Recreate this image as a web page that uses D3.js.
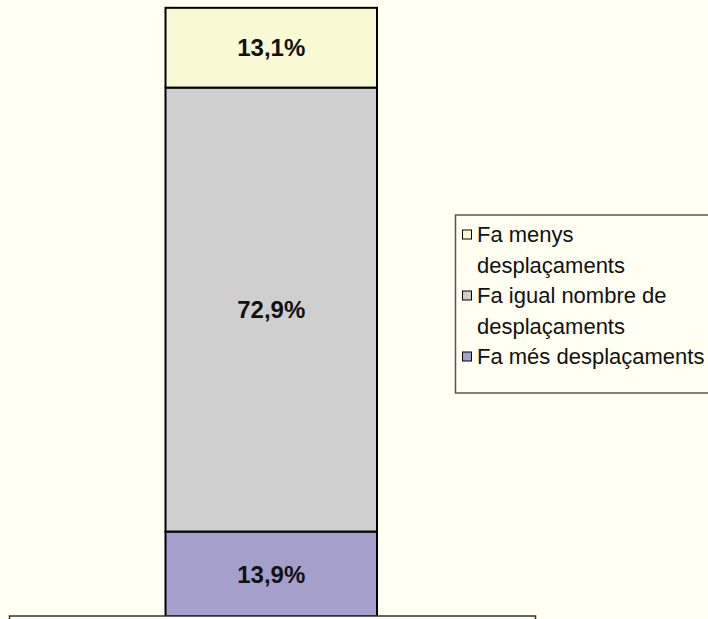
<!DOCTYPE html>
<html>
<head>
<meta charset="utf-8">
<script src="https://cdn.jsdelivr.net/npm/d3@7"></script>
<style>
  html, body { margin: 0; padding: 0; background: #FFFFF2; }
  svg { display: block; }
</style>
</head>
<body>
<svg id="chart" width="708" height="619"></svg>
<script>
// Stacked share of trips, bottom segment first
const categories = ["Fa més desplaçaments", "Fa igual nombre de desplaçaments", "Fa menys desplaçaments"];
const values = [13.9, 72.9, 13.1];
const valueLabels = ["13,9%", "72,9%", "13,1%"];
const colors = ["#A59FCB", "#CFCFCF", "#F9F9D4"];
// Legend order (top to bottom) with its wrapped lines
const legendOrder = [2, 1, 0];
const legendLines = [
  ["Fa més desplaçaments"],
  ["Fa igual nombre de", "desplaçaments"],
  ["Fa menys", "desplaçaments"]
];

const svg = d3.select("#chart");
const W = 708, H = 619;

svg.append("rect").attr("width", W).attr("height", H).attr("fill", "#FFFFF2");

const y = d3.scaleLinear().domain([0, 100]).range([616.2, 7.2]);
const x = d3.scaleBand().domain(["total"]).range([165.5, 377]);

let acc = 0;
const stacked = values.map((v, i) => {
  const d = { i, y0: acc, y1: acc + v, v };
  acc += v;
  return d;
});

const g = svg.append("g");
g.selectAll("rect.seg")
  .data(stacked)
  .join("rect")
  .attr("class", "seg")
  .attr("x", x("total"))
  .attr("width", x.bandwidth())
  .attr("y", d => y(d.y1))
  .attr("height", d => y(d.y0) - y(d.y1))
  .attr("fill", d => colors[d.i])
  .attr("stroke", "#000")
  .attr("stroke-width", 2);

g.selectAll("text.val")
  .data(stacked)
  .join("text")
  .attr("class", "val")
  .attr("x", x("total") + x.bandwidth() / 2)
  .attr("y", d => (y(d.y0) + y(d.y1)) / 2)
  .attr("dy", "0.36em")
  .attr("text-anchor", "middle")
  .attr("font-family", "Liberation Sans, Arial, sans-serif")
  .attr("font-weight", "bold")
  .attr("font-size", 24)
  .attr("fill", "#111")
  .text(d => valueLabels[d.i]);

// Legend
const lg = svg.append("g");
lg.append("rect")
  .attr("x", 455.5).attr("y", 215)
  .attr("width", 270).attr("height", 178)
  .attr("fill", "#FFFFF2")
  .attr("stroke", "#555")
  .attr("stroke-width", 1.5);

let lineY = 242;
legendOrder.forEach(idx => {
  const lines = legendLines[idx];
  lg.append("rect")
    .attr("x", 462.5).attr("y", lineY - 12)
    .attr("width", 9).attr("height", 9)
    .attr("fill", colors[idx])
    .attr("stroke", "#000")
    .attr("stroke-width", 1);
  const t = lg.append("text")
    .attr("font-family", "Liberation Sans, Arial, sans-serif")
    .attr("font-size", 22)
    .attr("fill", "#111");
  lines.forEach((ln, k) => {
    t.append("tspan")
      .attr("x", 477)
      .attr("y", lineY + k * 30.5)
      .text(ln);
  });
  lineY += lines.length * 30.5;
});

// Footer box along the bottom edge
svg.append("rect")
  .attr("x", 9.5).attr("y", 616)
  .attr("width", 526).attr("height", 20)
  .attr("fill", "#FFFFFA")
  .attr("stroke", "#333")
  .attr("stroke-width", 1.5);
</script>
</body>
</html>
